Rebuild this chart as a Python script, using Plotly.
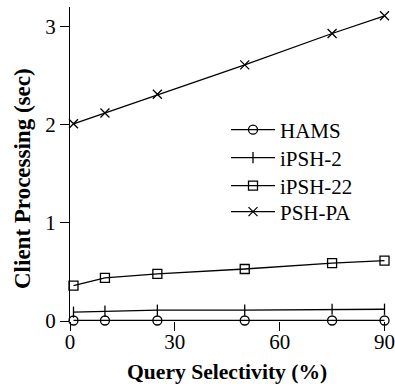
import plotly.graph_objects as go

# Query selectivity (%) at which each scheme was measured
selectivity = [1, 10, 25, 50, 75, 90]

# Client processing time (sec) per scheme
hams = [0.005, 0.005, 0.005, 0.005, 0.005, 0.005]
ipsh_2 = [0.09, 0.10, 0.11, 0.11, 0.12, 0.12]
ipsh_22 = [0.36, 0.44, 0.48, 0.53, 0.59, 0.615]
psh_pa = [2.01, 2.12, 2.31, 2.61, 2.93, 3.11]

series = [
    ("HAMS", hams, "circle-open", 9),
    ("iPSH-2", ipsh_2, "line-ns-open", 8),
    ("iPSH-22", ipsh_22, "square-open", 9),
    ("PSH-PA", psh_pa, "x-thin-open", 9),
]

W, H = 395, 387
ML, MR, MT, MB = 70, 7, 7, 66
FONT = "Liberation Serif"

# one legend box per series so the rows sit at fixed heights
legend_rows = [130, 158, 186, 212]
ph = H - MT - MB
pw = W - ML - MR

fig = go.Figure()
legends = {}
for i, (name, vals, sym, size) in enumerate(series):
    key = "legend" if i == 0 else f"legend{i + 1}"
    fig.add_trace(go.Scatter(
        x=selectivity, y=vals, name=name, mode="lines+markers",
        line=dict(color="black", width=1.3),
        marker=dict(symbol=sym, size=size, color="black",
                    line=dict(color="black", width=1.3)),
        cliponaxis=False, legend=key,
    ))
    legends[key] = dict(
        x=(226 - ML) / pw, y=((H - MB) - legend_rows[i]) / ph,
        xanchor="left", yanchor="middle", itemwidth=44,
        bgcolor="rgba(0,0,0,0)", borderwidth=0,
        font=dict(family=FONT, size=21, color="black"),
    )

fig.update_layout(
    width=W, height=H,
    margin=dict(l=ML, r=MR, t=MT, b=MB),
    paper_bgcolor="white", plot_bgcolor="white",
    font=dict(family=FONT, size=21, color="black"),
    showlegend=True,
    xaxis=dict(range=[0, 91], tickvals=[0, 30, 60, 90],
               ticks="outside", ticklen=9, tickwidth=1.3, tickcolor="black",
               showgrid=False, zeroline=False, showline=False,
               ticklabeloverflow="allow", automargin=False,
               ticklabelstandoff=-7,
               tickfont=dict(family=FONT, size=21)),
    yaxis=dict(range=[0, 3.2], tickvals=[0, 1, 2, 3],
               ticks="outside", ticklen=9, tickwidth=1.3, tickcolor="black",
               showgrid=False, zeroline=False, showline=True,
               linecolor="black", linewidth=1.3, automargin=False,
               tickfont=dict(family=FONT, size=21)),
    **legends,
)

# Axis titles
fig.add_annotation(
    text="<b>Query Selectivity (%)</b>", xref="paper", yref="paper",
    x=(227 - ML) / pw, y=-(372 - (H - MB)) / ph,
    showarrow=False, xanchor="center", yanchor="middle",
    font=dict(family=FONT, size=21.6),
)
fig.add_annotation(
    text="<b>Client Processing (sec)</b>", xref="paper", yref="paper",
    x=-(ML - 22) / pw, y=((H - MB) - 179) / ph,
    showarrow=False, xanchor="center", yanchor="middle", textangle=-90,
    font=dict(family=FONT, size=23),
)

fig.write_html("out.html")
